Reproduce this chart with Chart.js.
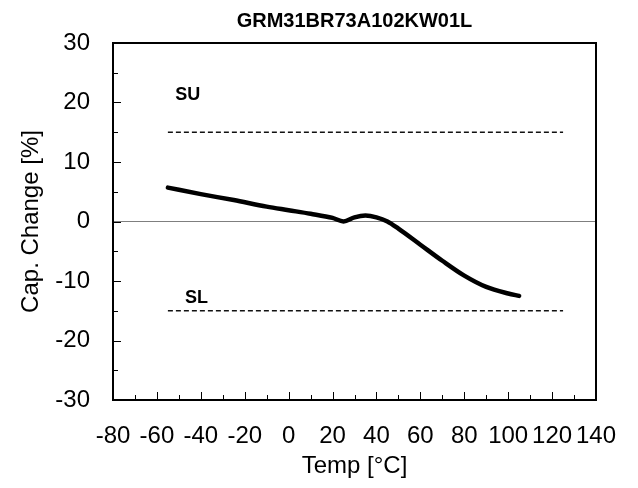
<!DOCTYPE html>
<html>
<head>
<meta charset="utf-8">
<script src="https://cdn.jsdelivr.net/npm/chart.js@4.4.1/dist/chart.umd.min.js"></script>
<style>
  html, body { margin: 0; padding: 0; background: #fff; }
</style>
</head>
<body>
<canvas id="chart" width="638" height="488"></canvas>
<script>
const temps = [-55, -40, -25, -10, 0, 10, 20, 25, 30, 35, 40, 45, 50, 60, 70, 80, 90, 100, 105];
const capChange = [5.7, 4.6, 3.6, 2.5, 1.9, 1.3, 0.6, 0.0, 0.7, 1.0, 0.7, 0.0, -1.2, -3.9, -6.6, -9.1, -11.0, -12.1, -12.5];
const limitTemps = [-55, 125];
const upperLimit = [15, 15];
const lowerLimit = [-15, -15];
const limitLabels = ["SU", "SL"];
const limitLabelAt = [[-46, 21.3], [-42, -12.9]];

const FONT = "Arial, 'Liberation Sans', sans-serif";

function pts(xs, ys) {
  return xs.map((x, i) => ({ x, y: ys[i] }));
}

// inward ticks, frame and the SU/SL notes
const framePlugin = {
  id: "frame",
  afterDraw(chart) {
    const { ctx, chartArea: a, scales: { x, y } } = chart;
    ctx.save();
    ctx.strokeStyle = "#000";
    ctx.lineWidth = 1;
    ctx.beginPath();
    for (let v = x.min; v <= x.max; v += 10) {
      const px = Math.round(x.getPixelForValue(v)) + 0.5;
      const len = v % 20 === 0 ? 8 : 5;
      ctx.moveTo(px, a.bottom);
      ctx.lineTo(px, a.bottom - len);
    }
    for (let v = y.min; v <= y.max; v += 5) {
      const py = Math.round(y.getPixelForValue(v)) + 0.5;
      const len = v % 10 === 0 ? 8 : 5;
      ctx.moveTo(a.left, py);
      ctx.lineTo(a.left + len, py);
    }
    ctx.stroke();
    ctx.lineWidth = 2;
    ctx.strokeRect(a.left, a.top, a.right - a.left, a.bottom - a.top);

    ctx.fillStyle = "#000";
    ctx.font = "bold 18px " + FONT;
    ctx.textAlign = "center";
    ctx.textBaseline = "middle";
    limitLabels.forEach((t, i) => {
      const [lx, ly] = limitLabelAt[i];
      ctx.fillText(t, x.getPixelForValue(lx), y.getPixelForValue(ly));
    });
    ctx.restore();
  },
};

new Chart(document.getElementById("chart"), {
  type: "line",
  data: {
    datasets: [
      {
        data: pts(limitTemps, upperLimit),
        borderColor: "#111",
        borderWidth: 1.5,
        borderDash: [5, 3],
        pointRadius: 0,
      },
      {
        data: pts(limitTemps, lowerLimit),
        borderColor: "#111",
        borderWidth: 1.5,
        borderDash: [5, 3],
        pointRadius: 0,
      },
      {
        data: pts(temps, capChange),
        borderColor: "#000",
        borderWidth: 4.5,
        borderCapStyle: "round",
        cubicInterpolationMode: "monotone",
        pointRadius: 0,
      },
    ],
  },
  options: {
    responsive: false,
    animation: false,
    layout: { padding: { left: 0, right: 42, top: 0, bottom: 0 } },
    plugins: {
      legend: { display: false },
      tooltip: { enabled: false },
      title: {
        display: true,
        text: "GRM31BR73A102KW01L",
        color: "#000",
        fullSize: false,
        font: { family: FONT, size: 20, weight: "bold" },
        padding: { top: 9, bottom: 10 },
      },
    },
    scales: {
      x: {
        type: "linear",
        min: -80,
        max: 140,
        border: { display: false },
        grid: { display: false },
        ticks: {
          stepSize: 20,
          autoSkip: false,
          maxRotation: 0,
          padding: 14,
          color: "#000",
          font: { family: FONT, size: 24 },
        },
        title: {
          display: true,
          text: "Temp [°C]",
          color: "#000",
          font: { family: FONT, size: 24 },
          padding: { top: 0, bottom: 7 },
        },
        afterFit(scale) { scale.height = 88; },
      },
      y: {
        min: -30,
        max: 30,
        border: { display: false },
        grid: {
          drawTicks: false,
          color: (c) => (c.tick && c.tick.value === 0 ? "#7f7f7f" : "rgba(0,0,0,0)"),
          lineWidth: 1,
        },
        ticks: {
          stepSize: 10,
          padding: 23,
          color: "#000",
          font: { family: FONT, size: 24 },
        },
        title: {
          display: true,
          text: "Cap. Change [%]",
          color: "#000",
          font: { family: FONT, size: 24 },
          padding: { top: 17, bottom: 0 },
        },
        afterFit(scale) { scale.width = 113; },
      },
    },
  },
  plugins: [framePlugin],
});
</script>
</body>
</html>
